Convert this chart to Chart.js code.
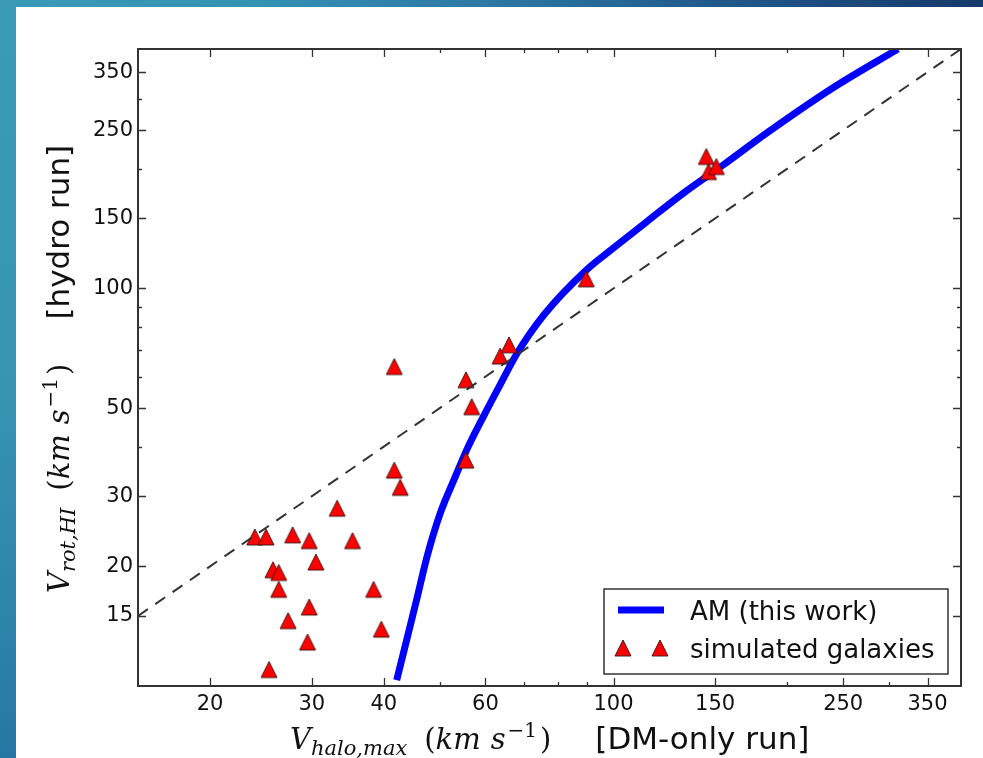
<!DOCTYPE html>
<html>
<head>
<meta charset="utf-8">
<title>AM vs simulated galaxies</title>
<script src="https://cdn.jsdelivr.net/npm/chart.js@4.4.1/dist/chart.umd.min.js"></script>
<style>
  html, body { margin: 0; padding: 0; }
  body {
    width: 983px; height: 758px; overflow: hidden; position: relative;
    background: linear-gradient(90deg, #3a9ab6 0%, #3493b3 25%, #2c78a3 50%, #215b8b 72%, #16396b 100%);
  }
  #strip { position: absolute; left: 0; top: 0; width: 16px; height: 758px;
    background: linear-gradient(180deg, #3b9bb7 0%, #3795b3 50%, #2c82aa 85%, #2576a2 100%); }
  #panel { position: absolute; left: 16px; top: 7px; width: 967px; height: 751px; background: #fff; }
  canvas { display: block; }
</style>
</head>
<body>
<div id="strip"></div>
<div id="panel"><canvas id="amChart" width="967" height="751"></canvas></div>
<script>
// Abundance-matching relation: V_halo,max (DM-only) -> V_rot,HI (hydro)
const amVhalo = [42.1, 45.6, 47.5, 50.1, 53.2, 55.7, 59.5, 63.6, 68.0, 75.6, 89.9, 98.7, 114.3, 132.2, 155.1, 184.4, 240.5, 311];
const amVrot  = [10.35, 16.5, 21.1, 27.2, 33.6, 39.3, 47.6, 57.2, 68.5, 85.5, 111.5, 124.5, 147.3, 173.6, 204.6, 246, 320, 400];

// Simulated galaxies
const simVhalo = [42.7, 33.2, 23.9, 25.0, 27.8, 29.7, 35.3, 30.5, 25.7, 26.3, 26.3, 38.4, 29.7, 27.3, 39.6, 29.5, 25.3,
                  41.7, 65.9, 63.6, 55.5, 56.8, 55.5, 41.7, 89.7, 144.8, 146.1, 150.7];
const simVrot  = [31.6, 28.0, 23.7, 23.7, 24.0, 23.2, 23.2, 20.5, 19.6, 19.3, 17.5, 17.5, 15.8, 14.6, 13.9, 12.9, 11.0,
                  63.6, 72.1, 67.6, 58.9, 50.4, 37.0, 34.9, 105.7, 214.7, 196.7, 202.5];

// one-to-one reference line
const unityLine = [15, 400];

const xRange = [15, 400];
const yRange = [10, 400];
const xTickVals = [20, 30, 40, 50, 60, 70, 80, 90, 100, 150, 200, 250, 300, 350];
const xTickLabels = [20, 30, 40, 60, 100, 150, 250, 350];
const yTickVals = [15, 20, 30, 40, 50, 60, 70, 80, 90, 100, 150, 200, 250, 300, 350];
const yTickLabels = [15, 20, 30, 50, 100, 150, 250, 350];

const legendLabels = ['AM (this work)', 'simulated galaxies'];

// red triangle marker, centred on its bounding box like matplotlib's '^'
function makeTriangle() {
  const c = document.createElement('canvas');
  c.width = 20; c.height = 20;
  const g = c.getContext('2d');
  g.beginPath();
  g.moveTo(10, 2); g.lineTo(18, 18); g.lineTo(2, 18); g.closePath();
  g.fillStyle = '#ff0000';
  g.fill();
  g.lineWidth = 1;
  g.strokeStyle = 'rgba(50,15,15,0.9)';
  g.stroke();
  return c;
}
const triangle = makeTriangle();

const mathFont = 'italic 29px "DejaVu Serif"';
const mathSub = 'italic 21px "DejaVu Serif"';
const romanFont = '29px "DejaVu Serif"';
const romanSup = '20px "DejaVu Serif"';
const sansFont = '31px "DejaVu Sans"';

function titleParts(sub, tail) {
  return [
    { text: 'V', font: mathFont },
    { text: sub, font: mathSub, dy: 6 },
    { gap: 17, text: '(', font: romanFont },
    { text: 'km', font: mathFont },
    { gap: 10, text: 's', font: mathFont },
    { gap: 2, text: '\u22121', font: romanSup, dy: -12 },
    { gap: 3, text: ')', font: romanFont },
    { gap: 44, text: tail, font: sansFont }
  ];
}

function drawRich(ctx, parts, x, y, angle) {
  ctx.save();
  ctx.translate(x, y);
  ctx.rotate(angle);
  ctx.fillStyle = '#111';
  ctx.textBaseline = 'alphabetic';
  ctx.textAlign = 'left';
  let cx = 0;
  for (const p of parts) {
    cx += p.gap || 0;
    ctx.font = p.font;
    ctx.fillText(p.text, cx, p.dy || 0);
    cx += ctx.measureText(p.text).width;
  }
  ctx.restore();
}

// frame, inward ticks on all four sides, axis titles and legend
const decorations = {
  id: 'decorations',
  afterDraw(chart) {
    const { ctx, chartArea: a, scales: { x, y } } = chart;
    ctx.save();
    ctx.strokeStyle = '#333';
    ctx.lineWidth = 1.3;
    ctx.beginPath();
    for (const v of xTickVals) {
      const px = Math.round(x.getPixelForValue(v)) + 0.5;
      const len = xTickLabels.includes(v) ? 8 : 4;
      ctx.moveTo(px, a.bottom); ctx.lineTo(px, a.bottom - len);
      ctx.moveTo(px, a.top); ctx.lineTo(px, a.top + len);
    }
    for (const v of yTickVals) {
      const py = Math.round(y.getPixelForValue(v)) + 0.5;
      const len = yTickLabels.includes(v) ? 8 : 4;
      ctx.moveTo(a.left, py); ctx.lineTo(a.left + len, py);
      ctx.moveTo(a.right, py); ctx.lineTo(a.right - len, py);
    }
    ctx.stroke();
    ctx.lineWidth = 2;
    ctx.strokeRect(a.left, a.top, a.right - a.left, a.bottom - a.top);

    drawRich(ctx, titleParts('halo,max', '[DM-only run]'), 274, 742, 0);
    drawRich(ctx, titleParts('rot,HI', '[hydro run]'), 53, 586, -Math.PI / 2);

    // legend box
    const lx = 588, ly = 582, lw = 344, lh = 85;
    ctx.fillStyle = '#fff';
    ctx.fillRect(lx, ly, lw, lh);
    ctx.lineWidth = 1.5;
    ctx.strokeStyle = '#333';
    ctx.strokeRect(lx, ly, lw, lh);
    ctx.strokeStyle = '#0000ff';
    ctx.lineWidth = 7;
    ctx.beginPath();
    ctx.moveTo(lx + 14, ly + 21); ctx.lineTo(lx + 60, ly + 21);
    ctx.stroke();
    ctx.drawImage(triangle, lx + 19 - 10, ly + 59 - 10);
    ctx.drawImage(triangle, lx + 56 - 10, ly + 59 - 10);
    ctx.fillStyle = '#111';
    ctx.font = '26px "DejaVu Sans"';
    ctx.textBaseline = 'alphabetic';
    ctx.fillText(legendLabels[0], lx + 86, ly + 31);
    ctx.fillText(legendLabels[1], lx + 86, ly + 69);
    ctx.restore();
  }
};

const tickFont = { family: 'DejaVu Sans', size: 21 };

new Chart(document.getElementById('amChart'), {
  type: 'scatter',
  data: {
    datasets: [
      {
        type: 'line',
        label: 'unity',
        data: unityLine.map(v => ({ x: v, y: v })),
        borderColor: '#333',
        borderWidth: 2,
        borderDash: [12, 9],
        pointRadius: 0,
        fill: false,
        clip: 0,
        order: 0
      },
      {
        label: legendLabels[1],
        data: simVhalo.map((v, i) => ({ x: v, y: simVrot[i] })),
        pointStyle: triangle,
        pointRadius: 10,
        order: 1
      },
      {
        type: 'line',
        label: legendLabels[0],
        data: amVhalo.map((v, i) => ({ x: v, y: amVrot[i] })),
        borderColor: '#0000ff',
        borderWidth: 7,
        borderCapStyle: 'butt',
        cubicInterpolationMode: 'monotone',
        pointRadius: 0,
        fill: false,
        clip: 0,
        order: 2
      }
    ]
  },
  options: {
    responsive: false,
    animation: false,
    layout: { padding: { left: 0, top: 42, right: 22, bottom: 0 } },
    plugins: { legend: { display: false }, tooltip: { enabled: false } },
    scales: {
      x: {
        type: 'logarithmic',
        min: xRange[0], max: xRange[1],
        afterBuildTicks: s => { s.ticks = xTickVals.map(v => ({ value: v })); },
        afterFit: s => { s.height = 72; },
        grid: { display: false, drawTicks: false },
        border: { display: false },
        ticks: {
          autoSkip: false, maxRotation: 0, padding: 6,
          color: '#111', font: tickFont,
          callback: v => (xTickLabels.includes(v) ? String(v) : '')
        }
      },
      y: {
        type: 'logarithmic',
        min: yRange[0], max: yRange[1],
        afterBuildTicks: s => { s.ticks = yTickVals.map(v => ({ value: v })); },
        afterFit: s => { s.width = 122; },
        grid: { display: false, drawTicks: false },
        border: { display: false },
        ticks: {
          autoSkip: false, padding: 5,
          color: '#111', font: tickFont,
          callback: v => (yTickLabels.includes(v) ? String(v) : '')
        }
      }
    }
  },
  plugins: [decorations]
});
</script>
</body>
</html>
